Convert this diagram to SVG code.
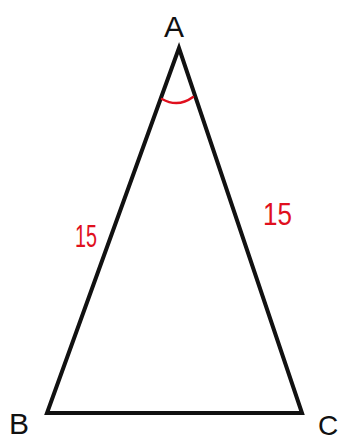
<svg xmlns="http://www.w3.org/2000/svg" width="342" height="443" viewBox="0 0 342 443">
<style>
.edge{fill:none;stroke:#111;stroke-width:4;stroke-linejoin:miter;stroke-linecap:round}
.lbl{font-family:"Liberation Sans",Arial,sans-serif;font-size:30px;fill:#111}
.red{font-family:"Liberation Sans",Arial,sans-serif;font-size:32px;fill:#e0101e}
</style>
<rect width="342" height="443" fill="#fff"/>
<g id="connectors">
<path class="edge" d="M179,48 L47,413 L302,413 Z"/>
<path d="M162,99 Q178,108 193,97" fill="none" stroke="#e0101e" stroke-width="2.5" stroke-linecap="round"/>
</g>
<g id="node-A"><text class="lbl" x="174" y="37" text-anchor="middle">A</text></g>
<g id="node-B"><text class="lbl" x="19" y="434" text-anchor="middle">B</text></g>
<g id="node-C"><text class="lbl" x="328" y="435" text-anchor="middle" style="font-size:28px">C</text></g>
<g id="label-AB"><text class="red" x="75" y="247" textLength="22" lengthAdjust="spacingAndGlyphs">15</text></g>
<g id="label-AC"><text class="red" x="263" y="225" textLength="29" lengthAdjust="spacingAndGlyphs">15</text></g>
</svg>
